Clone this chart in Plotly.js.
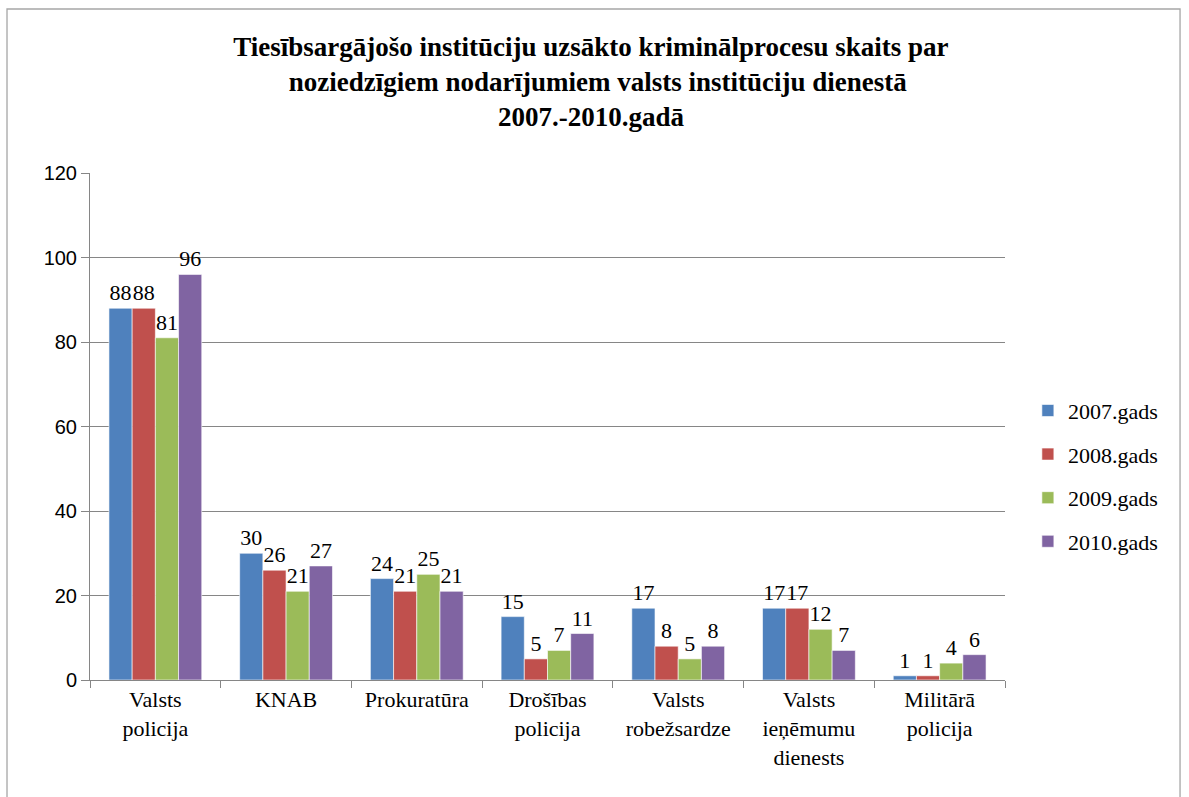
<!DOCTYPE html>
<html>
<head>
<meta charset="utf-8">
<script src="https://cdn.plot.ly/plotly-3.0.1.min.js"></script>
<style>
  body { margin: 0; background: #fff; }
</style>
</head>
<body>
<div id="chart" style="width:1189px;height:797px"></div>
<script>
// categories and yearly values
var institutions = ["Valsts<br>policija", "KNAB", "Prokuratūra", "Drošības<br>policija",
                    "Valsts<br>robežsardze", "Valsts<br>ieņēmumu<br>dienests", "Militārā<br>policija"];
var years = ["2007.gads", "2008.gads", "2009.gads", "2010.gads"];
var v2007 = [88, 30, 24, 15, 17, 17, 1];
var v2008 = [88, 26, 21, 5, 8, 17, 1];
var v2009 = [81, 21, 25, 7, 5, 12, 4];
var v2010 = [96, 27, 21, 11, 8, 7, 6];
var colors = ["#4F81BD", "#C0504D", "#9BBB59", "#8064A2"];

var serif = "Liberation Serif";

var series = [v2007, v2008, v2009, v2010];
var data = series.map(function (vals, i) {
  return {
    x: institutions,
    y: vals,
    name: years[i],
    type: "bar",
    legendgroup: "g" + i,
    marker: { color: colors[i], line: { color: "#ffffff", width: 0.6 } },
    text: vals.map(String),
    textposition: "outside",
    constraintext: "none",
    cliponaxis: false,
    textfont: { family: serif, size: 22, color: "#000" }
  };
});

var layout = {
  width: 1189,
  height: 797,
  font: { family: serif, size: 22, color: "#000" },
  margin: { l: 90, r: 184, t: 173, b: 117 },
  paper_bgcolor: "#fff",
  plot_bgcolor: "#fff",
  barmode: "group",
  bargap: 0.29,
  bargroupgap: 0,
  title: {
    text: "<b>Tiesībsargājošo institūciju uzsākto kriminālprocesu skaits par<br>  noziedzīgiem nodarījumiem valsts institūciju dienestā<br>2007.-2010.gadā</b>",
    font: { family: serif, size: 27, color: "#000" },
    x: 0.497, xanchor: "center",
    y: 0.93, yanchor: "top"
  },
  xaxis: {
    type: "category",
    showgrid: false,
    showline: true,
    linecolor: "#868686",
    ticks: "outside",
    tickson: "boundaries",
    ticklen: 7,
    tickcolor: "#868686",
    tickfont: { family: serif, size: 22, color: "#000" },
    fixedrange: true
  },
  yaxis: {
    range: [0, 120],
    dtick: 20,
    gridcolor: "#868686",
    showline: true,
    linecolor: "#868686",
    zeroline: false,
    ticks: "outside",
    ticklen: 8,
    tickcolor: "#868686",
    tickfont: { family: "Liberation Sans", size: 20, color: "#000" },
    fixedrange: true
  },
  legend: {
    x: 1.025, xanchor: "left",
    y: 0.402, yanchor: "middle",
    font: { family: serif, size: 22, color: "#000" },
    traceorder: "grouped",
    tracegroupgap: 12,
    itemwidth: 30
  },
  shapes: [{
    type: "rect", xref: "paper", yref: "paper",
    x0: -0.0907, x1: 1.1913, y0: -0.24, y1: 1.3235,
    line: { color: "#A6A6A6", width: 1.3 }
  }]
};

// force the serif face onto every text node once the chart is drawn
function applyFonts() {
  var nodes = document.querySelectorAll("#chart text, #chart tspan");
  nodes.forEach(function (n) {
    var inY = n.closest && n.closest(".ytick");
    var fam = inY ? "Liberation Sans" : serif;
    n.setAttribute("font-family", fam);
    n.style.setProperty("font-family", fam, "important");
  });
}

Plotly.newPlot("chart", data, layout, { displayModeBar: false }).then(function (gd) {
  applyFonts();
  gd.on("plotly_afterplot", applyFonts);
});
</script>
</body>
</html>
